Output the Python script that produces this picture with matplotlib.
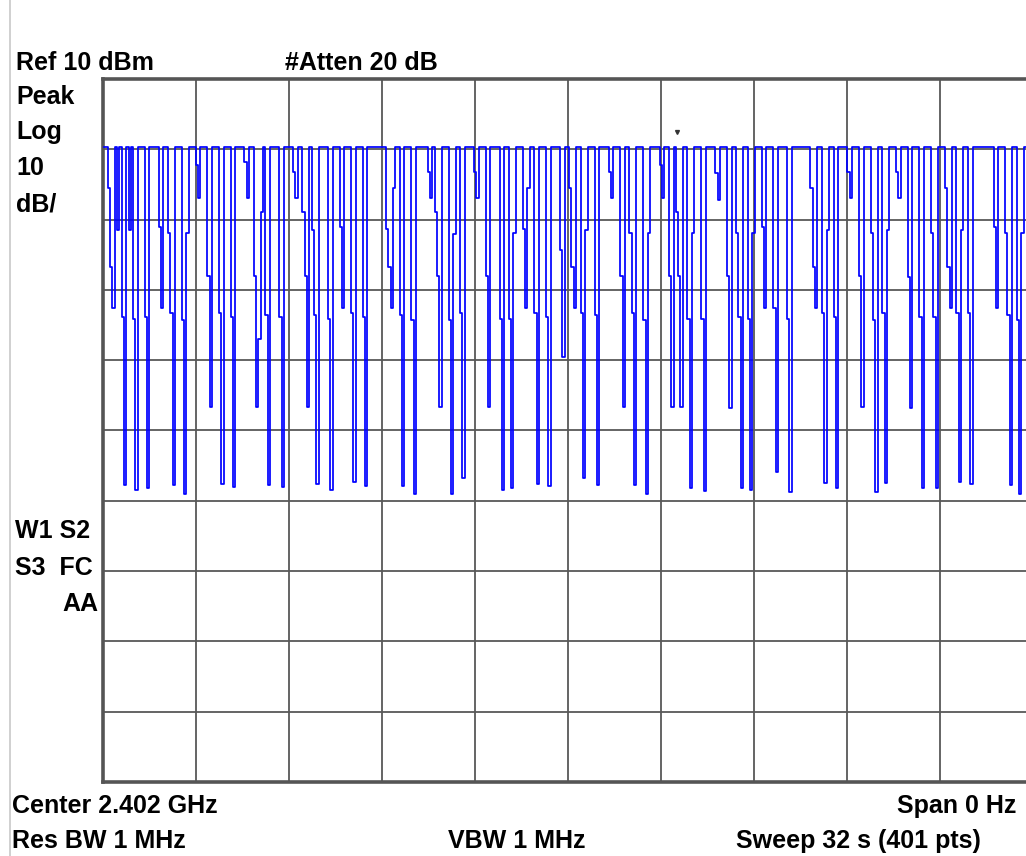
import numpy as np
import matplotlib.pyplot as plt
from matplotlib.lines import Line2D

# zero-span sweep, 401 points, Ref 10 dBm, 10 dB/div
n_pts = 401
ref_level = 10.0
db_per_div = 10.0
base_level = 0.3   # carrier level between the gaps (dBm)

# gaps in the carrier: first point index and the levels (dBm)
dip_start = [2, 6, 8, 11, 13, 18, 24, 28, 34, 40, 45, 50, 55, 61, 65, 70, 76, 82,
             86, 90, 97, 102, 107, 112, 122, 128, 133, 140, 143, 149, 154, 160,
             165, 171, 175, 181, 186, 191, 197, 201, 206, 212, 218, 223, 227, 233,
             240, 244, 247, 252, 258, 264, 269, 273, 278, 284, 289, 295, 305, 310,
             315, 321, 326, 331, 336, 342, 347, 352, 357, 363, 368, 373, 384, 389,
             394]
dip_levels = [
    [-5.5, -16.8, -22.6], [-11.5], [-23.9, -47.8], [-11.5], [-24.1, -48.5],
    [-23.9, -48.2], [-11.1, -22.6], [-11.9, -23.3, -47.8], [-24.3, -49.0, -11.9],
    [-2.2, -6.9], [-18.0, -36.7], [-23.3, -47.6], [-23.9, -48.0], [-1.8, -6.9],
    [-18.0, -36.7, -27.0, -8.9], [-23.6, -47.8], [-23.9, -48.0], [-3.2, -6.9],
    [-8.9, -18.0, -36.7], [-11.5, -23.6, -47.6], [-24.1, -48.5], [-11.1, -22.6],
    [-23.3, -47.3], [-23.9, -47.9], [-11.3, -16.8, -22.6, -5.5], [-23.6, -47.9],
    [-24.3, -49.0], [-3.2, -6.9], [-8.9, -18.0, -36.7], [-24.3, -49.0, -12.1],
    [-23.3, -46.8], [-3.2, -6.9], [-18.0, -36.7], [-24.1, -48.5],
    [-24.1, -48.2, -11.9], [-11.3, -22.6, -5.5], [-23.3, -47.6], [-23.9, -47.9],
    [-14.3, -29.5], [-5.5, -16.8, -22.6], [-23.3, -46.8, -11.5], [-23.6, -47.8],
    [-3.2, -6.9], [-18.0, -36.7], [-11.9, -23.3, -47.8], [-24.3, -49.0, -11.9],
    [-2.2, -6.9], [-18.0, -36.7], [-8.9, -18.0, -36.7], [-24.1, -48.2, -11.9],
    [-24.1, -48.6], [-3.4, -7.2], [-18.0, -36.8], [-11.9, -23.9, -48.2],
    [-24.1, -48.5, -11.9], [-11.1, -22.6], [-22.6, -45.9], [-24.1, -48.8],
    [-5.5, -16.8, -22.6], [-23.3, -47.4, -11.5], [-23.9, -48.2], [-3.2, -6.9],
    [-18.0, -36.7], [-11.9, -24.3, -48.8], [-23.3, -47.4, -11.5], [-3.2, -6.9],
    [-18.2, -36.8], [-23.9, -48.2], [-11.9, -23.9, -48.2], [-5.5, -16.8, -22.6],
    [-23.3, -47.3, -11.5], [-23.3, -47.6], [-11.1, -22.6], [-11.9, -23.6, -47.8],
    [-24.3, -49.0, -11.9],
]

# marker (small 'v' above the trace)
marker_idx = 247
marker_level = 2.4

trace = np.full(n_pts, base_level)
for s, lv in zip(dip_start, dip_levels):
    trace[s:s + len(lv)] = lv

# --- figure ---
W, H = 1026, 856
fig = plt.figure(figsize=(W / 100, H / 100), dpi=100)
fig.patch.set_facecolor('white')

# screen area in pixels (right edge runs just past the picture)
px_l, px_r, px_t, px_b = 103, 1033, 79, 782
ax = fig.add_axes([px_l / W, 1 - px_b / H, (px_r - px_l) / W, (px_b - px_t) / H])

x = np.arange(n_pts)
ax.plot(x, trace, color='#0000ff', lw=1.25, drawstyle='steps-mid', zorder=3)
ax.plot(marker_idx, marker_level, marker='v', ms=2.8, color='#333333', zorder=4)

ax.set_xlim(-0.5, n_pts - 0.5)
ax.set_ylim(ref_level - 10 * db_per_div, ref_level)
ax.set_xticks(np.linspace(-0.5, n_pts - 0.5, 11))
ax.set_yticks(np.arange(ref_level - 10 * db_per_div, ref_level + 1, db_per_div))
ax.tick_params(length=0, labelbottom=False, labelleft=False)
ax.grid(True, color='#585858', lw=1.3)
ax.set_axisbelow(True)
for sp in ax.spines.values():
    sp.set_color('#555555')
    sp.set_linewidth(2.6)

# thin light line at the left edge of the screen shot
fig.add_artist(Line2D([10 / W, 10 / W], [0, 1], color='#c8c8c8', lw=1.2))

font = dict(family=['Liberation Sans', 'DejaVu Sans'], weight='bold', fontsize=18,
            color='black', va='baseline')


def ftext(px, py, s, ha='left'):
    fig.text(px / W, 1 - py / H, s, ha=ha, **font)


ftext(16, 70, 'Ref 10 dBm')
ftext(361, 70, '#Atten 20 dB', ha='center')
ftext(16, 104, 'Peak')
ftext(16, 139, 'Log')
ftext(16, 175, '10')
ftext(16, 212, 'dB/')
ftext(15, 538, 'W1 S2')
ftext(15, 575, 'S3  FC')
ftext(98, 611, 'AA', ha='right')
ftext(12, 813, 'Center 2.402 GHz')
ftext(1016, 813, 'Span 0 Hz', ha='right')
ftext(12, 848, 'Res BW 1 MHz')
ftext(517, 848, 'VBW 1 MHz', ha='center')
ftext(981, 848, 'Sweep 32 s (401 pts)', ha='right')

fig.savefig('out.png', dpi=100)
